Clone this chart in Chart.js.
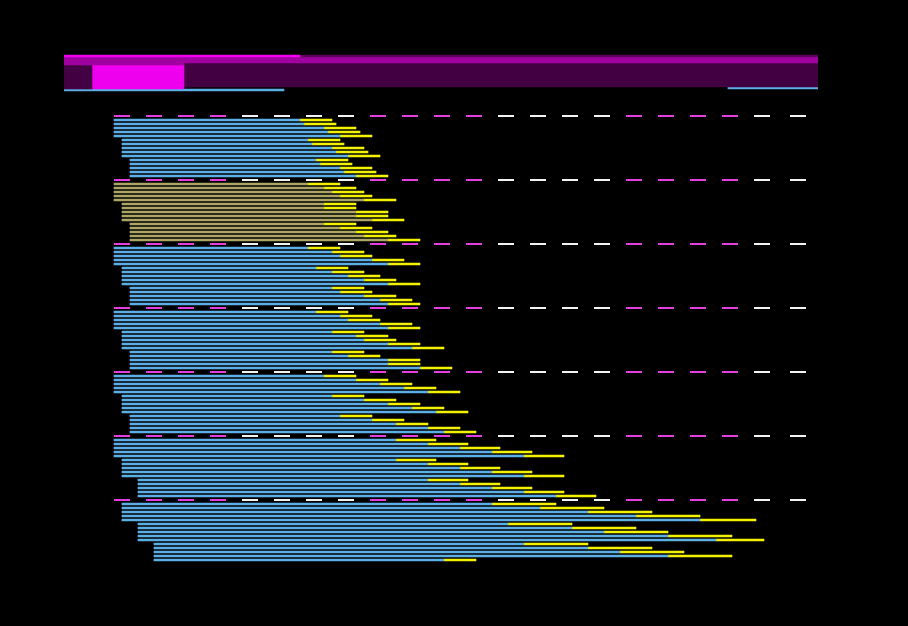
<!DOCTYPE html>
<html>
<head>
<meta charset="utf-8">
<style>
  html, body { margin: 0; padding: 0; background: #000; }
  #wrap { width: 908px; height: 626px; }
</style>
<script src="https://cdn.jsdelivr.net/npm/chart.js@4.4.1/dist/chart.umd.min.js"></script>
</head>
<body>
<div id="wrap"><canvas id="c" width="908" height="626"></canvas></div>
<script>
// ---- data (x in value units, rows in y units) ----
const groupKinds = ['blue', 'olive', 'blue', 'blue', 'blue', 'blue', 'blue'];
const groupStarts = [
  [25, 29, 33], [25, 29, 33], [25, 29, 33], [25, 29, 33],
  [25, 29, 33], [25, 29, 37], [29, 37, 45]
];
const mainEnds = [
  [118,120,130,132,138, 122,124,134,136,142, 126,128,138,140,146],
  [122,130,134,138,150, 130,130,146,146,154, 130,138,146,150,162],
  [122,134,138,154,162, 126,134,142,150,162, 134,138,150,158,162],
  [126,138,142,158,162, 134,146,150,162,174, 134,142,162,162,178],
  [130,146,158,170,182, 134,150,162,174,186, 138,154,166,182,190],
  [166,182,198,214,230, 166,182,198,214,230, 182,198,214,230,246],
  [214,238,262,286,318, 222,254,270,302,326, 230,262,278,302,190]
];
const capEnds = [
  [134,136,146,148,154, 138,140,150,152,158, 142,144,154,156,162],
  [138,146,150,154,166, 146,146,162,162,170, 146,154,162,166,178],
  [138,150,154,170,178, 142,150,158,166,178, 150,154,166,174,178],
  [142,154,158,174,178, 150,162,166,178,190, 150,158,178,178,194],
  [146,162,174,186,198, 150,166,178,190,202, 154,170,182,198,206],
  [186,202,218,234,250, 186,202,218,234,250, 202,218,234,250,266],
  [246,270,294,318,346, 254,286,302,334,350, 262,294,310,334,206]
];
// header band segments
const headerStart = [0, 118, 0, 0, 0, 14, 60, 0, 332];
const headerEnd   = [118, 377, 377, 60, 14, 60, 377, 110, 377];
const headerRow   = [2, 2, 4, 6, 12.5, 12.5, 11.5, 19, 18];
// dashed separators
const dashX = [29,45,61,77, 93,109,125,141, 157,173,189,205, 221,237,253,269, 285,301,317,333, 349,367];
const dashKind = ['m','m','m','m','w','w','w','w','m','m','m','m','w','w','w','w','m','m','m','m','w','w'];
const separatorRows = [32, 64, 96, 128, 160, 192, 224];

// ---- styles ----
const C = {
  blue: '#5eaee6', olive: '#aba665', cap: '#f2f200',
  m: '#e23ee2', w: '#f2f2f2'
};
const headerColor = ['#ee00ee', '#5c005c', '#a000a0', '#a000a0', '#420042', '#ee00ee', '#420042', '#5eaee6', '#5eaee6'];
const headerThick = [2, 2, 6, 2, 24, 24, 24, 2, 2];

// ---- build ----
const rowOf = (g, r) => 34 + 32 * g + 2 * r;
const blueData = [], oliveData = [], capData = [];
groupKinds.forEach((kind, g) => {
  for (let r = 0; r < 15; r++) {
    const s = groupStarts[g][Math.floor(r / 5)];
    const y = rowOf(g, r);
    (kind === 'olive' ? oliveData : blueData).push({ x: [s, mainEnds[g][r]], y });
    capData.push({ x: [mainEnds[g][r], capEnds[g][r]], y });
  }
});

const barBase = { type: 'bar', grouped: false, barThickness: 2, borderWidth: 0, indexAxis: 'y' };
const datasets = [];
headerStart.forEach((s, i) => {
  datasets.push(Object.assign({}, barBase, {
    label: 'h' + i,
    data: [{ x: [s, headerEnd[i]], y: headerRow[i] }],
    backgroundColor: headerColor[i],
    barThickness: headerThick[i]
  }));
});
datasets.push(Object.assign({}, barBase, { label: 'blue', data: blueData, backgroundColor: C.blue }));
datasets.push(Object.assign({}, barBase, { label: 'olive', data: oliveData, backgroundColor: C.olive }));
datasets.push(Object.assign({}, barBase, { label: 'cap', data: capData, backgroundColor: C.cap }));

const dashData = [], dashColors = [];
separatorRows.forEach(y => {
  dashX.forEach((x, i) => { dashData.push({ x, y }); dashColors.push(C[dashKind[i]]); });
});
datasets.push({
  type: 'line', label: 'sep', indexAxis: 'x', showLine: false,
  data: dashData, pointStyle: 'line', pointRadius: 8, pointHoverRadius: 8,
  pointBorderWidth: 2, pointBorderColor: dashColors, pointBackgroundColor: dashColors
});

new Chart(document.getElementById('c'), {
  type: 'bar',
  data: { datasets },
  options: {
    indexAxis: 'y',
    responsive: false,
    devicePixelRatio: 1,
    animation: false,
    events: [],
    layout: { autoPadding: false, padding: { left: 64, right: 90, top: 52, bottom: 54 } },
    plugins: { legend: { display: false }, title: { display: false }, tooltip: { enabled: false } },
    scales: {
      x: { type: 'linear', min: 0, max: 377, offset: false, display: false },
      y: { type: 'linear', min: 0, max: 260, reverse: true, offset: false, display: false }
    }
  }
});
</script>
</body>
</html>
